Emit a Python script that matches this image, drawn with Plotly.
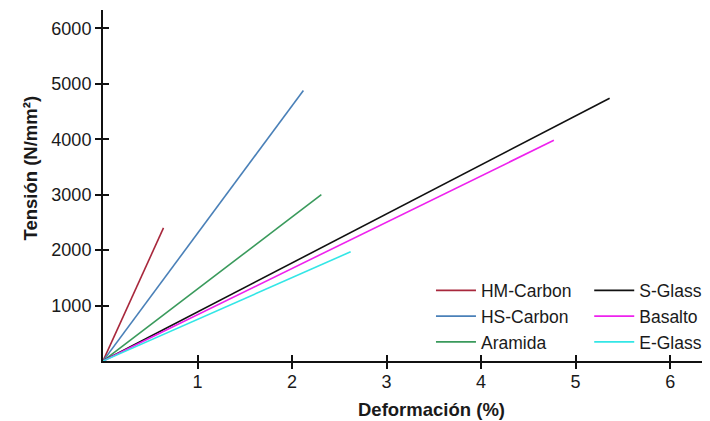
import plotly.graph_objects as go

# Data (strain %, stress N/mm²)
materials = ["HM-Carbon", "HS-Carbon", "Aramida", "S-Glass", "Basalto", "E-Glass"]
max_strain = [0.64, 2.12, 2.31, 5.36, 4.77, 2.62]
max_stress = [2400, 4880, 3000, 4740, 3980, 1970]
colors = ["#a8283c", "#4a80b8", "#3a9a5c", "#111111", "#ee22ee", "#33e6e6"]
legend_group = ["legend", "legend", "legend", "legend2", "legend2", "legend2"]

x_ticks = [1, 2, 3, 4, 5, 6]
y_ticks = [1000, 2000, 3000, 4000, 5000, 6000]

FONT = "Liberation Sans, Arial, sans-serif"
TXT = "#1a1a1a"

fig = go.Figure()
for name, sx, sy, c, lg in zip(materials, max_strain, max_stress, colors, legend_group):
    fig.add_trace(go.Scatter(x=[0, sx], y=[0, sy], mode="lines", name=name,
                             line=dict(color=c, width=1.6), legend=lg))

# invisible trace on overlay axes (used to draw inward half of crossing ticks)
fig.add_trace(go.Scatter(x=[0, max_strain[0]], y=[0, max_stress[0]], mode="lines",
                         xaxis="x2", yaxis="y2", opacity=0, showlegend=False,
                         hoverinfo="skip"))

xr = [0, 6.39]
yr = [0, 6330]
axis_common = dict(showgrid=False, zeroline=False, tickcolor="#111", tickwidth=1.6,
                   ticklen=6)
fig.update_layout(
    width=710, height=421,
    margin=dict(l=95, r=11, t=2, b=68),
    plot_bgcolor="white", paper_bgcolor="white",
    font=dict(family=FONT, size=18, color=TXT),
    xaxis=dict(range=xr, tickvals=x_ticks, ticks="outside", showline=True,
               linecolor="#111", linewidth=2, ticklabelstandoff=-3, **axis_common),
    yaxis=dict(range=yr, tickvals=y_ticks, ticks="outside", showline=True,
               linecolor="#111", linewidth=2, **axis_common),
    xaxis2=dict(range=xr, tickvals=x_ticks, ticks="inside", showticklabels=False,
                overlaying="x", showline=False, **axis_common),
    yaxis2=dict(range=yr, tickvals=y_ticks, ticks="inside", showticklabels=False,
                overlaying="y", showline=False, **axis_common),
    legend=dict(x=0.543, y=0.252, xanchor="left", yanchor="top", bgcolor="rgba(0,0,0,0)",
                font=dict(size=17.5), tracegroupgap=0, itemwidth=40),
    legend2=dict(x=0.805, y=0.252, xanchor="left", yanchor="top", bgcolor="rgba(0,0,0,0)",
                 font=dict(size=17.5), tracegroupgap=0, itemwidth=40),
    showlegend=True,
)

fig.add_annotation(text="<b>Deformación (%)</b>", xref="paper", yref="paper",
                   x=(431.5 - 103) / 604, y=-(409 - 361) / 351, showarrow=False,
                   xanchor="center", yanchor="middle", font=dict(size=18.5))
fig.add_annotation(text="<b>Tensión (N/mm²)</b>", xref="paper", yref="paper",
                   x=-(103 - 30) / 604, y=(361 - 168.5) / 351, showarrow=False,
                   textangle=-90, xanchor="center", yanchor="middle", font=dict(size=18.5))

fig.write_html("out.html")
